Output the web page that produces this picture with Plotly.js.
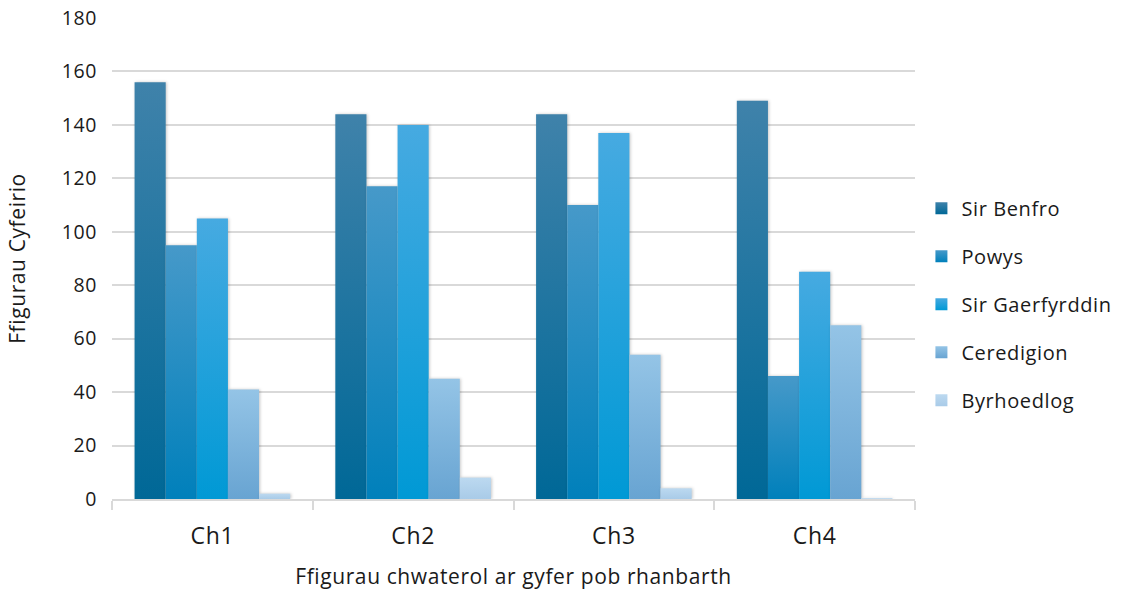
<!DOCTYPE html>
<html>
<head>
<meta charset="utf-8">
<script src="https://cdn.plot.ly/plotly-3.0.1.min.js"></script>
<style>
html,body{margin:0;padding:0;background:#fff;}
#chart{width:1130px;height:591px;}
svg text{letter-spacing:0.6px;}
</style>
</head>
<body>
<div id="chart"></div>
<script>
const categories = ["Ch1", "Ch2", "Ch3", "Ch4"];
const seriesNames = ["Sir Benfro", "Powys", "Sir Gaerfyrddin", "Ceredigion", "Byrhoedlog"];
const sirBenfro = [156, 144, 144, 149];
const powys = [95, 117, 110, 46];
const sirGaerfyrddin = [105, 140, 137, 85];
const ceredigion = [41, 45, 54, 65];
const byrhoedlog = [2, 8, 4, 0.3];
const seriesValues = [sirBenfro, powys, sirGaerfyrddin, ceredigion, byrhoedlog];
const yTicks = [0, 20, 40, 60, 80, 100, 120, 140, 160, 180];

const solid = ["#0c73a2", "#1a8cc4", "#13a0dc", "#7fb4dd", "#b5d3ec"];
const gradTop = ["#3f82aa", "#4699c9", "#46aae1", "#94c4e6", "#bcd9f0"];
const gradBot = ["#006897", "#0080bb", "#0099d5", "#68a4d2", "#a9cbe8"];

const FONT = "'Open Sans', Lato, sans-serif";
const TXT = "#1a1a1a";

const traces = seriesNames.map((name, i) => ({
  type: "bar",
  name: name,
  x: categories,
  y: seriesValues[i],
  legendgroup: "g" + i,
  marker: { color: solid[i], line: { width: 0 } },
  hoverinfo: "x+y+name"
}));

const layout = {
  width: 1130, height: 591,
  paper_bgcolor: "#ffffff", plot_bgcolor: "#ffffff",
  margin: { l: 112, r: 215, t: 18, b: 92 },
  font: { family: FONT, color: TXT },
  barmode: "group",
  bargap: 0.225,
  bargroupgap: 0,
  showlegend: true,
  legend: {
    x: 1.008, xanchor: "left", y: 0.405, yanchor: "middle",
    font: { size: 20, family: FONT, color: TXT },
    tracegroupgap: 19,
    itemwidth: 30
  },
  xaxis: {
    type: "category",
    tickfont: { size: 23, family: FONT, color: TXT },
    showgrid: false,
    showline: true, linecolor: "#d9d9d9", linewidth: 2,
    ticks: "outside", tickson: "boundaries", ticklen: 9, tickcolor: "#d9d9d9", tickwidth: 2,
    ticklabelstandoff: 15,
    title: { text: "Ffigurau chwaterol ar gyfer pob rhanbarth", font: { size: 21, family: FONT, color: TXT }, standoff: 20 }
  },
  yaxis: {
    range: [0, 180],
    tickvals: yTicks,
    ticktext: yTicks.map(String),
    tickfont: { size: 19.5, family: FONT, color: TXT },
    showgrid: true, gridcolor: "#d9d9d9", gridwidth: 2,
    zeroline: false, showline: false,
    ticklabelstandoff: 14,
    title: { text: "Ffigurau Cyfeirio", font: { size: 21, family: FONT, color: TXT }, standoff: 30 }
  }
};

Plotly.newPlot("chart", traces, layout, { displayModeBar: false, staticPlot: true }).then(gd => {
  const svg = gd.querySelector("svg.main-svg");
  const ns = "http://www.w3.org/2000/svg";
  let defs = svg.querySelector("defs");
  if (!defs) { defs = document.createElementNS(ns, "defs"); svg.insertBefore(defs, svg.firstChild); }
  seriesNames.forEach((n, i) => {
    const g = document.createElementNS(ns, "linearGradient");
    g.setAttribute("id", "bargrad" + i);
    g.setAttribute("x1", "0"); g.setAttribute("y1", "0");
    g.setAttribute("x2", "0"); g.setAttribute("y2", "1");
    const s1 = document.createElementNS(ns, "stop");
    s1.setAttribute("offset", "0"); s1.setAttribute("stop-color", gradTop[i]);
    const s2 = document.createElementNS(ns, "stop");
    s2.setAttribute("offset", "1"); s2.setAttribute("stop-color", gradBot[i]);
    g.appendChild(s1); g.appendChild(s2);
    defs.appendChild(g);
  });
  const traceGroups = gd.querySelectorAll(".barlayer .trace");
  traceGroups.forEach((tg, i) => {
    tg.style.filter = "drop-shadow(1.5px 0px 1.5px rgba(0,0,0,0.22))";
    tg.querySelectorAll("path").forEach(p => { p.style.fill = "url(#bargrad" + i + ")"; });
  });
  const legendItems = gd.querySelectorAll(".legend .traces");
  legendItems.forEach((li, i) => {
    li.querySelectorAll(".legendpoints path").forEach(p => { p.style.fill = "url(#bargrad" + i + ")"; });
  });
});
</script>
</body>
</html>
